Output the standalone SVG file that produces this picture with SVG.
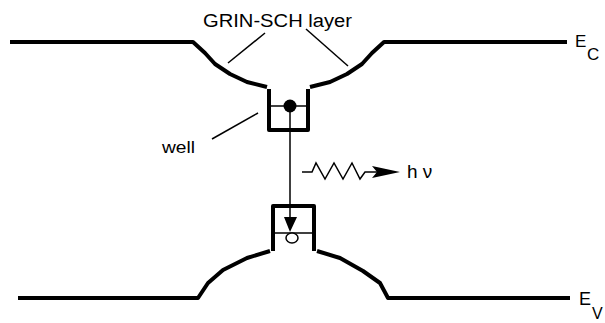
<svg xmlns="http://www.w3.org/2000/svg" width="605" height="323" viewBox="0 0 605 323">
<style>
.band{fill:none;stroke:#000;stroke-width:4;stroke-linejoin:round;stroke-linecap:butt}
.thin{fill:none;stroke:#000;stroke-width:1.5}
.lbl{font-family:"Liberation Sans",Arial,sans-serif;fill:#000}
</style>
<rect width="605" height="323" fill="#fff"/>
<g id="conduction-band">
<polyline class="band" points="10,42 193,42 205,53 215,64 230,74 247,82 267,87"/>
<polyline class="band" points="310,87 330,82 347,74 362,64 372,53 384,42 567,42"/>
<polyline class="band" points="269,89 269,130 308,130 308,89"/>
<line class="thin" x1="269" y1="106" x2="308" y2="106"/>
<circle cx="290" cy="106" r="6.5" fill="#000"/>
</g>
<g id="valence-band">
<polyline class="band" points="18,298 198,298 208,283 223,270 247,258 270,251"/>
<polyline class="band" points="317,251 340,258 363,271 380,283 388,298 570,298"/>
<polyline class="band" points="273,251 273,206 314,206 314,251"/>
<line class="thin" x1="273" y1="233" x2="314" y2="233"/>
<ellipse cx="292" cy="238" rx="6" ry="5" fill="#fff" stroke="#000" stroke-width="1.5"/>
</g>
<g id="connectors">
<line class="thin" x1="290" y1="106" x2="290" y2="219"/>
<polygon points="284,217 297,217 290,232" fill="#000"/>
<line class="thin" x1="265" y1="33" x2="228" y2="63"/>
<line class="thin" x1="306" y1="29" x2="348" y2="66"/>
<line class="thin" x1="258" y1="113" x2="212" y2="139"/>
<polyline class="thin" points="302,172 312,172 316,163 325,179 334,163 343,179 352,163 360,179 365,172 378,172"/>
<polygon points="400,172 372,166 377,172 372,178" fill="#000"/>
</g>
<g id="labels">
<text class="lbl" x="203" y="27" font-size="18" textLength="149" lengthAdjust="spacingAndGlyphs">GRIN-SCH layer</text>
<text class="lbl" x="162" y="153" font-size="17" textLength="33" lengthAdjust="spacingAndGlyphs">well</text>
<text class="lbl" x="407" y="178" font-size="19">h ν</text>
<text class="lbl" x="575" y="47" font-size="17">E</text>
<text class="lbl" x="587" y="60" font-size="17">C</text>
<text class="lbl" x="579" y="305" font-size="18">E</text>
<text class="lbl" x="592" y="319" font-size="16">V</text>
</g>
</svg>
